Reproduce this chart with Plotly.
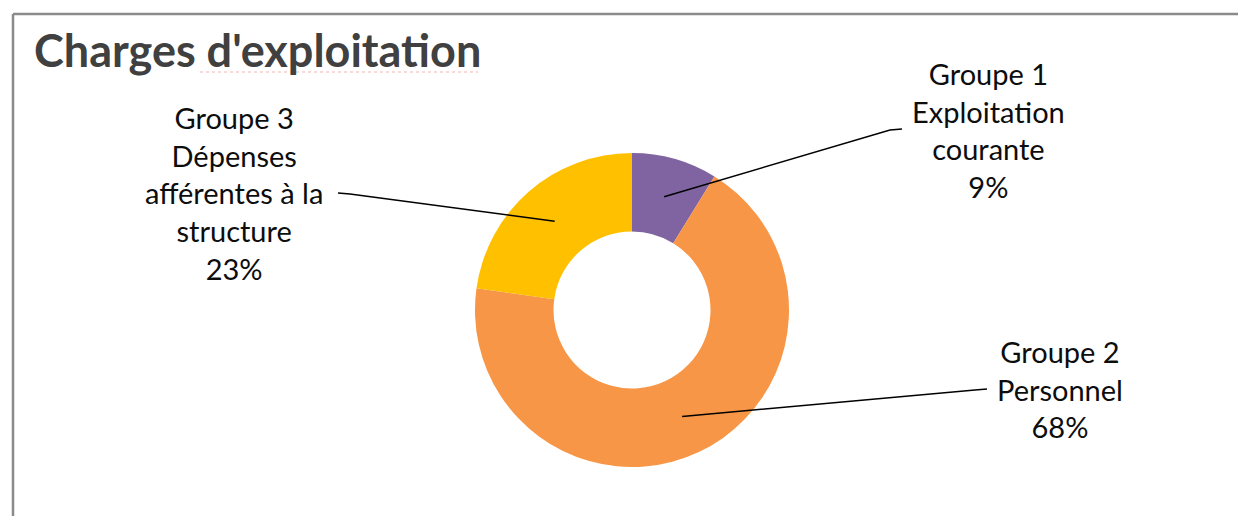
import math
import plotly.graph_objects as go

# ---- data ----
categories = ["Groupe 1<br>Exploitation<br>courante",
              "Groupe 2<br>Personnel",
              "Groupe 3<br>Dépenses<br>afférentes à la<br>structure"]
values = [8.8, 68.4, 22.8]
colors = ["#8064A2", "#F79646", "#FFC000"]
title_text = "Charges d'exploitation"

# ---- layout constants (pixels) ----
W, H = 1238, 516
cx, cy, R = 632, 310, 157
hole = 0.5
FONT = "Lato"

def px(x):
    return x / W

def py(y):
    return (H - y) / H

fig = go.Figure(go.Pie(
    labels=categories,
    values=values,
    marker=dict(colors=colors, line=dict(width=0)),
    hole=hole,
    sort=False,
    direction="clockwise",
    rotation=0,
    textinfo="none",
    hoverinfo="label+percent",
    showlegend=False,
    domain=dict(x=[px(cx - R), px(cx + R)], y=[py(cy + R), py(cy - R)]),
))

# label blocks: centre positions and leader line ends (layout, pixels)
label_pos = [(988, 130), (1060, 389), (234, 193)]
leader_end = [[(890, 130), (902, 129)],
              [(975, 390), (987, 389)],
              [(350, 194), (338, 193)]]

total = sum(values)
pcts = [round(v / total * 100) for v in values]
shapes = []
annotations = []
cum = 0.0
r_mid = R * (1 + hole) / 2
for i, v in enumerate(values):
    theta = math.radians((cum + v / 2) / total * 360)
    cum += v
    sx = cx + r_mid * math.sin(theta)
    sy = cy - r_mid * math.cos(theta)
    pts = [(sx, sy)] + leader_end[i]
    path = "M " + " L ".join(f"{px(x):.5f},{py(y):.5f}" for x, y in pts)
    shapes.append(dict(type="path", xref="paper", yref="paper", path=path,
                       line=dict(color="#000000", width=1.5)))
    lx, ly = label_pos[i]
    annotations.append(dict(
        text=f"{categories[i]}<br>{pcts[i]}%",
        x=px(lx), y=py(ly), xref="paper", yref="paper",
        xanchor="center", yanchor="middle", showarrow=False,
        align="center",
        font=dict(family=FONT, size=29, color="#0d0d0d"),
    ))

# title
annotations.append(dict(
    text=f"<b>{title_text}</b>", x=px(32), y=py(50), xref="paper", yref="paper",
    xanchor="left", yanchor="middle", showarrow=False,
    font=dict(family=FONT, size=45, color="#404040"),
))

# chart frame (top and left edges)
shapes.append(dict(type="line", xref="paper", yref="paper",
                   x0=px(13), y0=py(14), x1=1.01, y1=py(14),
                   line=dict(color="#8a8a8a", width=2.5)))
shapes.append(dict(type="line", xref="paper", yref="paper",
                   x0=px(13), y0=py(14), x1=px(13), y1=-0.01,
                   line=dict(color="#8a8a8a", width=2.5)))
# faint spell-check underline under the title
shapes.append(dict(type="line", xref="paper", yref="paper",
                   x0=px(200), y0=py(72), x1=px(478), y1=py(72),
                   line=dict(color="#f3b4b4", width=1, dash="dot")))

fig.update_layout(
    width=W, height=H,
    margin=dict(l=0, r=0, t=0, b=0),
    paper_bgcolor="white",
    plot_bgcolor="white",
    shapes=shapes,
    annotations=annotations,
)

fig.write_html("out.html",
               config={"displayModeBar": False},
               post_script="document.body.style.margin='0';document.body.style.overflow='hidden';")
